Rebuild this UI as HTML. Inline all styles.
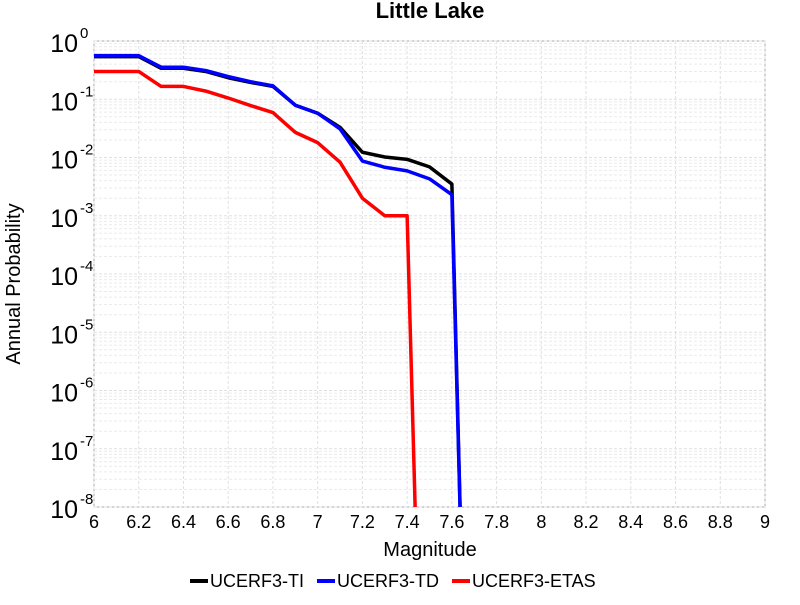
<!DOCTYPE html>
<html><head><meta charset="utf-8"><style>
body{margin:0;background:#fff;font-family:"Liberation Sans",sans-serif}
</style></head><body>
<svg id="c" width="800" height="600" xmlns="http://www.w3.org/2000/svg" font-family="Liberation Sans, sans-serif">
<defs><clipPath id="clip"><rect x="94" y="41" width="671" height="466"/></clipPath></defs>
<text x="430" y="18" text-anchor="middle" font-size="22" font-weight="bold">Little Lake</text>
<rect x="94" y="41" width="671" height="466" fill="#fff" stroke="#aaa"/>
<g id="grid"></g>
<g id="ticks"></g>
<g id="series" clip-path="url(#clip)"></g>
<text x="430" y="556" text-anchor="middle" font-size="20">Magnitude</text>
<text transform="translate(20,284) rotate(-90)" text-anchor="middle" font-size="20">Annual Probability</text>
<g font-size="18">
<g><line x1="190" y1="581" x2="208" y2="581" stroke="#000" stroke-width="4"/><text x="210" y="587">UCERF3-TI</text></g>
<g><line x1="317" y1="581" x2="335" y2="581" stroke="#00f" stroke-width="4"/><text x="337" y="587">UCERF3-TD</text></g>
<g><line x1="452" y1="581" x2="470" y2="581" stroke="#f00" stroke-width="4"/><text x="472" y="587">UCERF3-ETAS</text></g>
</g>
</svg>
<script>
const mags=[6.0,6.1,6.2,6.3,6.4,6.5,6.6,6.7,6.8,6.9,7.0,7.1,7.2,7.3,7.4,7.5,7.6];
const tiVals=[0.54,0.54,0.54,0.34,0.34,0.30,0.234,0.195,0.166,0.079,0.0575,0.033,0.0123,0.0102,0.0093,0.0069,0.0035];
const tdVals=[0.56,0.56,0.56,0.355,0.355,0.31,0.245,0.2,0.17,0.079,0.0575,0.031,0.0087,0.0068,0.0059,0.0043,0.0023];
const etasMags=[6.0,6.1,6.2,6.3,6.4,6.5,6.6,6.7,6.8,6.9,7.0,7.1,7.2,7.3,7.4];
const etasVals=[0.30,0.30,0.30,0.166,0.166,0.138,0.105,0.078,0.059,0.027,0.018,0.0083,0.002,0.001,0.001];
const tailTI=[7.65,1e-10], tailTD=[7.65,1e-10], tailETAS=[7.45,1e-10];
const xTicks=["6","6.2","6.4","6.6","6.8","7","7.2","7.4","7.6","7.8","8","8.2","8.4","8.6","8.8","9"];
const yExps=[0,-1,-2,-3,-4,-5,-6,-7,-8];
const X0=94,X1=765,Y0=41,Y1=507;
const xs=m=>X0+(m-6)/3*(X1-X0);
const ys=v=>Y0+(-Math.log10(v))/8*(Y1-Y0);
const NS="http://www.w3.org/2000/svg";
function mk(t,a,p){const e=document.createElementNS(NS,t);for(const k in a)e.setAttribute(k,a[k]);p.appendChild(e);return e;}
const grid=document.getElementById('grid'),ticks=document.getElementById('ticks'),ser=document.getElementById('series');
xTicks.forEach(t=>{const x=xs(parseFloat(t));
 const l=mk('line',{x1:x,x2:x,y1:Y0,y2:Y1,stroke:'#e0e0e0','stroke-dasharray':'3,2'},grid);
 
 const tx=mk('text',{x:x,y:528,'text-anchor':'middle','font-size':18},ticks);tx.textContent=t;
 });
yExps.forEach(e=>{const y=ys(Math.pow(10,e));
 for(let k=2;k<=9&&e>-8;k++){const yy=ys(k*Math.pow(10,e-1));
  const l=mk('line',{x1:X0,x2:X1,y1:yy,y2:yy,stroke:'#ebebeb','stroke-dasharray':'3,2'},grid);
  }
 const l=mk('line',{x1:X0,x2:X1,y1:y,y2:y,stroke:'#e0e0e0','stroke-dasharray':'3,2'},grid);
 
 const tx=mk('text',{x:78,y:y+11,'text-anchor':'end','font-size':25},ticks);tx.textContent='10';
 
 const sp=mk('text',{x:80,y:y-3,'font-size':15},ticks);sp.textContent=String(e);
 });
function line(mA,vA,tail,col,name){let d=mA.map((m,i)=>(i?'L':'M')+xs(m)+','+ys(vA[i])).join(' ');
 d+=' L'+xs(tail[0])+','+ys(tail[1]);
 const p=mk('path',{d:d,fill:'none',stroke:col,'stroke-width':3.5,'stroke-linejoin':'round'},ser);
 }
line(mags,tiVals,tailTI,'#000','series-ucerf3-ti');
line(mags,tdVals,tailTD,'#00f','series-ucerf3-td');
line(etasMags,etasVals,tailETAS,'#f00','series-ucerf3-etas');
</script>
</body></html>
